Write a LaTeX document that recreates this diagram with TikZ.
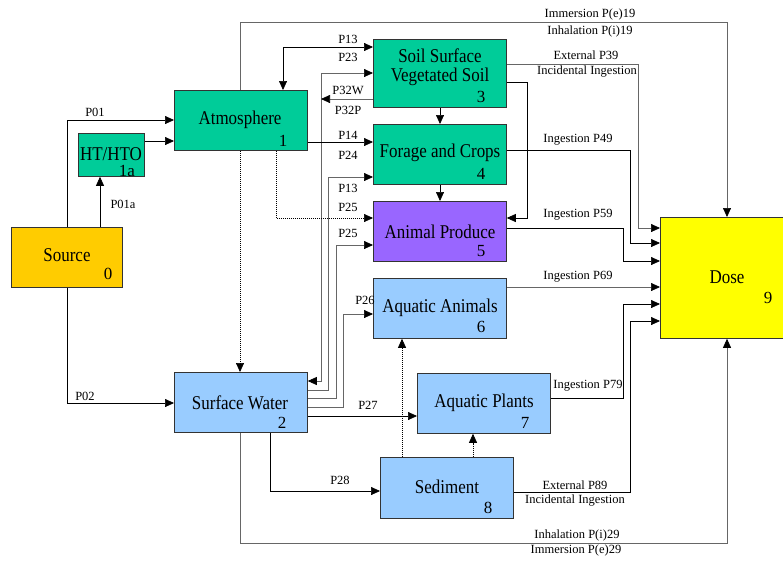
\documentclass[tikz,border=0pt]{standalone}
\usepackage{fontspec}
\setmainfont{Liberation Serif}
\newfontfamily\tnr{Liberation Serif}
\usetikzlibrary{arrows.meta}
\definecolor{cgreen}{HTML}{00CC99}
\definecolor{cpurple}{HTML}{9966FF}
\definecolor{cblue}{HTML}{99CCFF}
\definecolor{corange}{HTML}{FFCC00}
\definecolor{cyellow}{HTML}{FFFF00}
\definecolor{cline}{HTML}{666666}
\begin{document}
\begin{tikzpicture}[x=1pt,y=-1pt,
  box/.style={draw=black!80, line width=0.8pt, anchor=north west, inner sep=0pt},
  btext/.style={font=\tnr\fontsize{19.5}{22}\selectfont, inner sep=0pt, align=center, xscale=0.87, transform shape},
  num/.style={font=\tnr\fontsize{17}{19}\selectfont, inner sep=0pt},
  lbl/.style={font=\tnr\fontsize{12.5}{14}\selectfont, inner sep=0pt},
  arr/.style={-{Triangle[length=9pt,width=8pt,color=black]}, line width=0.7pt},
  darr/.style={{Triangle[length=9pt,width=8pt,color=black]}-{Triangle[length=9pt,width=8pt,color=black]}, line width=0.7pt},
  gl/.style={draw=cline},
  dot/.style={dash pattern=on 1pt off 1pt}]
\fill[white] (0,0) rectangle (783,563);
\useasboundingbox (0,0) rectangle (783,563);
\clip (0,0) rectangle (783,563);

% boxes
\node[box, fill=corange, minimum width=111pt, minimum height=60pt] (src) at (11,227) {};
\node[box, fill=cgreen, minimum width=66pt, minimum height=43pt] (hth) at (78,133) {};
\node[box, fill=cgreen, minimum width=133pt, minimum height=60pt] (atm) at (174,90) {};
\node[box, fill=cgreen, minimum width=133pt, minimum height=68pt] (soil) at (373,39) {};
\node[box, fill=cgreen, minimum width=133pt, minimum height=60pt] (forage) at (373,124) {};
\node[box, fill=cpurple, minimum width=133pt, minimum height=60pt] (animal) at (373,201) {};
\node[box, fill=cblue, minimum width=133pt, minimum height=60pt] (aqan) at (373,278) {};
\node[box, fill=cblue, minimum width=133pt, minimum height=60pt] (sw) at (174,372) {};
\node[box, fill=cblue, minimum width=133pt, minimum height=60pt] (aqpl) at (417,373) {};
\node[box, fill=cblue, minimum width=133pt, minimum height=61pt] (sed) at (380,457) {};
\node[box, fill=cyellow, minimum width=140pt, minimum height=121pt] (dose) at (660,217) {};

% box texts
\node[btext] (tsrc) at (67,255) {Source};
\node[num] (nsrc) at (108,274) {0};
\node[btext] (thth) at (111,154) {HT/HTO};
\node[num] (nhth) at (127,171) {1a};
\node[btext] (tatm) at (240,120) {Atmosphere};
\node[num] (natm) at (283,141) {1};
\node[btext] (tsoil1) at (440,56) {Soil Surface};
\node[btext] (tsoil2) at (440,77) {Vegetated Soil};
\node[num] (nsoil) at (481,97) {3};
\node[btext] (tforage) at (440,153) {Forage and Crops};
\node[num] (nforage) at (481,174) {4};
\node[btext] (tanimal) at (440,232) {Animal Produce};
\node[num] (nanimal) at (481,251) {5};
\node[btext] (taqan) at (440,308) {Aquatic Animals};
\node[num] (naqan) at (481,327) {6};
\node[btext] (tsw) at (240,403) {Surface Water};
\node[num] (nsw) at (282,423) {2};
\node[btext] (taqpl) at (484,403) {Aquatic Plants};
\node[num] (naqpl) at (525,423) {7};
\node[btext] (tsed) at (447,487) {Sediment};
\node[num] (nsed) at (488,508) {8};
\node[btext] (tdose) at (727,277) {Dose};
\node[num] (ndose) at (768,298) {9};

% connectors
\draw[arr] (src.north -| 67,0) |- (atm.west |- 0,120);
\draw[arr] (src.north -| 100,0) -- (hth.south -| 100,0);
\draw[arr] (hth.east |- 0,141) -- (atm.west |- 0,141);
\draw[arr] (src.south -| 67,0) |- (sw.west |- 0,403);
\draw[arr,gl] (atm.north -| 240,0) -- (240,22) -| (dose.north -| 727,0);
\draw[darr] (atm.north -| 283,0) |- (soil.west |- 0,47);
\draw[darr,gl] (sw.east |- 0,381) -| (321,73) -- (soil.west |- 0,73);
\draw[arr,gl] (soil.west |- 0,99) -- (321,99);
\draw[arr] (atm.east |- 0,142) -- (forage.west |- 0,142);
\draw[arr,gl] (sw.east |- 0,390) -| (328,177) -- (forage.west |- 0,177);
\draw[arr,dot] (atm.south -| 276,0) |- (animal.west |- 0,218);
\draw[arr,gl] (sw.east |- 0,398) -| (336,245) -- (animal.west |- 0,245);
\draw[arr,gl] (sw.east |- 0,407) -| (343,314) -- (aqan.west |- 0,314);
\draw[arr] (sw.east |- 0,416) -- (aqpl.west |- 0,416);
\draw[arr,dot] (atm.south -| 240,0) -- (sw.north -| 240,0);
\draw[arr] (sw.south -| 270,0) |- (sed.west |- 0,491);
\draw[arr,gl] (sw.south -| 240,0) |- (727,543) -- (dose.south -| 727,0);
\draw[arr,dot] (sed.north -| 402,0) -- (aqan.south -| 402,0);
\draw[arr,dot] (sed.north -| 473,0) -- (aqpl.south -| 473,0);
\draw[arr] (soil.south -| 440,0) -- (forage.north -| 440,0);
\draw[arr] (forage.south -| 440,0) -- (animal.north -| 440,0);
\draw[arr,gl] (soil.east |- 0,64) -| (638,228) -- (dose.west |- 0,228);
\draw[arr] (soil.east |- 0,82) -| (527,218) -- (animal.east |- 0,218);
\draw[arr] (forage.east |- 0,150) -| (630,243) -- (dose.west |- 0,243);
\draw[arr] (animal.east |- 0,228) -| (623,261) -- (dose.west |- 0,261);
\draw[arr,gl] (aqan.east |- 0,287) -- (dose.west |- 0,287);
\draw[arr] (aqpl.east |- 0,398) -| (623,304) -- (dose.west |- 0,304);
\draw[arr] (sed.east |- 0,492) -| (630,321) -- (dose.west |- 0,321);

% labels
\node[lbl] (l01) at (95,112) {P01};
\node[lbl] (l01a) at (123,204) {P01a};
\node[lbl] (l02) at (85,396) {P02};
\node[lbl] (l13a) at (348,39) {P13};
\node[lbl] (l23) at (348,57) {P23};
\node[lbl] (l32w) at (348,90) {P32W};
\node[lbl] (l32p) at (348,110) {P32P};
\node[lbl] (l14) at (348,135) {P14};
\node[lbl] (l24) at (348,155) {P24};
\node[lbl] (l13b) at (348,188) {P13};
\node[lbl] (l25a) at (348,207) {P25};
\node[lbl] (l25b) at (348,233) {P25};
\node[lbl] (l26) at (365,300) {P26};
\node[lbl] (l27) at (368,405) {P27};
\node[lbl] (l28) at (340,480) {P28};
\node[lbl] (le19) at (590,14) {Immersion P(e)19};
\node[lbl] (li19) at (590,31) {Inhalation P(i)19};
\node[lbl] (le39) at (586,55) {External P39};
\node[lbl] (ii39) at (587,72) {Incidental Ingestion};
\node[lbl] (i49) at (578,140) {Ingestion P49};
\node[lbl] (i59) at (578,215) {Ingestion P59};
\node[lbl] (i69) at (578,277) {Ingestion P69};
\node[lbl] (i79) at (588,386) {Ingestion P79};
\node[lbl] (le89) at (575,485) {External P89};
\node[lbl] (ii89) at (575,501) {Incidental Ingestion};
\node[lbl] (li29) at (577,535) {Inhalation P(i)29};
\node[lbl] (le29) at (576,550) {Immersion P(e)29};
\end{tikzpicture}
\end{document}
